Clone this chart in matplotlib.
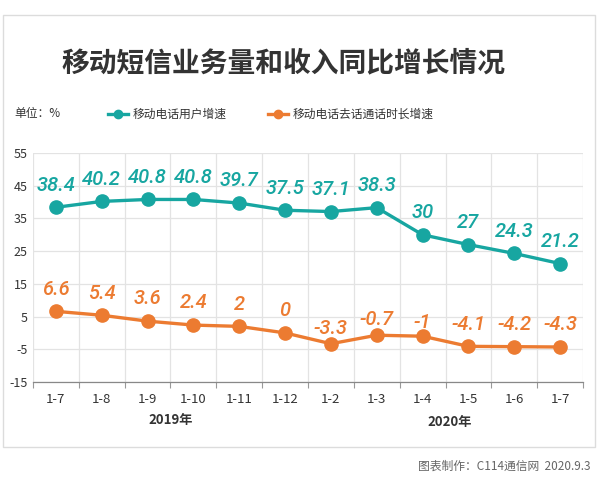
import matplotlib
matplotlib.use("Agg")
import matplotlib.pyplot as plt
from matplotlib.patches import Rectangle
from matplotlib.lines import Line2D

categories = ["1-7", "1-8", "1-9", "1-10", "1-11", "1-12", "1-2", "1-3", "1-4", "1-5", "1-6", "1-7"]
users_growth = [38.4, 40.2, 40.8, 40.8, 39.7, 37.5, 37.1, 38.3, 30, 27, 24.3, 21.2]
duration_growth = [6.6, 5.4, 3.6, 2.4, 2, 0, -3.3, -0.7, -1, -4.1, -4.2, -4.3]
series_names = ["移动电话用户增速", "移动电话去话通话时长增速"]
year_labels = ["2019年", "2020年"]
y_ticks = [-15, -5, 5, 15, 25, 35, 45, 55]

TEAL = "#17a6a1"
ORANGE = "#ec7b31"
CJK = ["Noto Sans CJK SC", "DejaVu Sans"]
plt.rcParams["font.family"] = CJK

W, H = 600, 486
fig = plt.figure(figsize=(W / 100, H / 100), dpi=100)
fig.patch.set_facecolor("white")

def fx(px):
    return px / W

def fy(py):
    return 1 - py / H

# outer panel border
fig.patches.append(Rectangle((fx(3), fy(447)), fx(592), 432 / H, transform=fig.transFigure,
                             fill=False, edgecolor="#dcdcdc", linewidth=1.0))

ax = fig.add_axes([fx(33), fy(382), fx(583 - 33), (382 - 153) / H])
n = len(categories)
x = list(range(n))

ax.set_xlim(-0.5, n - 0.5)
ax.set_ylim(-15, 55)
ax.set_yticks(y_ticks)
ax.set_yticklabels([str(v) for v in y_ticks], fontsize=9, color="#333333", family=CJK,
                   fontweight="medium")
ax.set_xticks(x)
ax.set_xticklabels(categories, fontsize=9.5, color="#333333", family=CJK, fontweight="medium")
ax.tick_params(axis="y", length=0, pad=4)
ax.tick_params(axis="x", length=0, pad=8)
# boundary ticks
ax.set_xticks([i - 0.5 for i in range(n + 1)], minor=True)
ax.tick_params(axis="x", which="minor", length=4, color="#999999", width=0.8)

for v in y_ticks:
    ax.axhline(v, color="#e3e3e3", lw=0.9, zorder=0)
for i in range(n + 1):
    ax.axvline(i - 0.5, color="#e3e3e3", lw=0.9, zorder=0)

for s in ["top", "right", "left"]:
    ax.spines[s].set_visible(False)
ax.spines["bottom"].set_color("#888888")
ax.spines["bottom"].set_linewidth(0.9)

ax.plot(x, users_growth, color=TEAL, lw=2.4, marker="o", ms=9.5, zorder=3)
ax.plot(x, duration_growth, color=ORANGE, lw=2.4, marker="o", ms=9.5, zorder=3)

label_font = ["Roboto", "DejaVu Sans"]
for xi, v in zip(x, users_growth):
    ax.annotate(f"{v:g}", (xi, v), xytext=(0, 16), textcoords="offset points",
                ha="center", va="center", color=TEAL, fontsize=14.5, style="italic",
                fontweight="medium", family=label_font)
orange_off = [16, 16, 16, 16, 16, 16, 11, 11, 10, 16, 16, 16]
for xi, v, o in zip(x, duration_growth, orange_off):
    ax.annotate(f"{v:g}", (xi, v), xytext=(0, o), textcoords="offset points",
                ha="center", va="center", color=ORANGE, fontsize=14.5, style="italic",
                fontweight="medium", family=label_font)

# year group labels
ax.text(2.5, -0.165, year_labels[0], transform=ax.get_xaxis_transform(), ha="center", va="center",
        fontsize=9.5, fontweight="bold", color="#333333", family=CJK)
ax.text(8.6, -0.175, year_labels[1], transform=ax.get_xaxis_transform(), ha="center", va="center",
        fontsize=9.5, fontweight="bold", color="#333333", family=CJK)

# title
fig.text(fx(283), fy(63), "移动短信业务量和收入同比增长情况", ha="center", va="center",
         fontsize=20, fontweight="bold", color="#333333", family=CJK)

# unit
fig.text(fx(14), fy(113), "单位：%", ha="left", va="center", fontsize=8.5, color="#333333",
         family=CJK, fontweight="medium")

# legend
def legend_item(x0, color, label):
    fig.add_artist(Line2D([fx(x0), fx(x0 + 20)], [fy(114), fy(114)], transform=fig.transFigure,
                          color=color, lw=2.4))
    fig.add_artist(Line2D([fx(x0 + 10)], [fy(114)], transform=fig.transFigure, color=color,
                          marker="o", ms=6))
    fig.text(fx(x0 + 25), fy(114), label, ha="left", va="center", fontsize=8.5,
             color="#333333", family=CJK, fontweight="medium")

legend_item(108, TEAL, series_names[0])
legend_item(268, ORANGE, series_names[1])

# footer
fig.text(fx(590), fy(466), "图表制作：C114通信网  2020.9.3", ha="right", va="center",
         fontsize=8.5, color="#666666", family=CJK)

fig.savefig("out.png", dpi=100)
